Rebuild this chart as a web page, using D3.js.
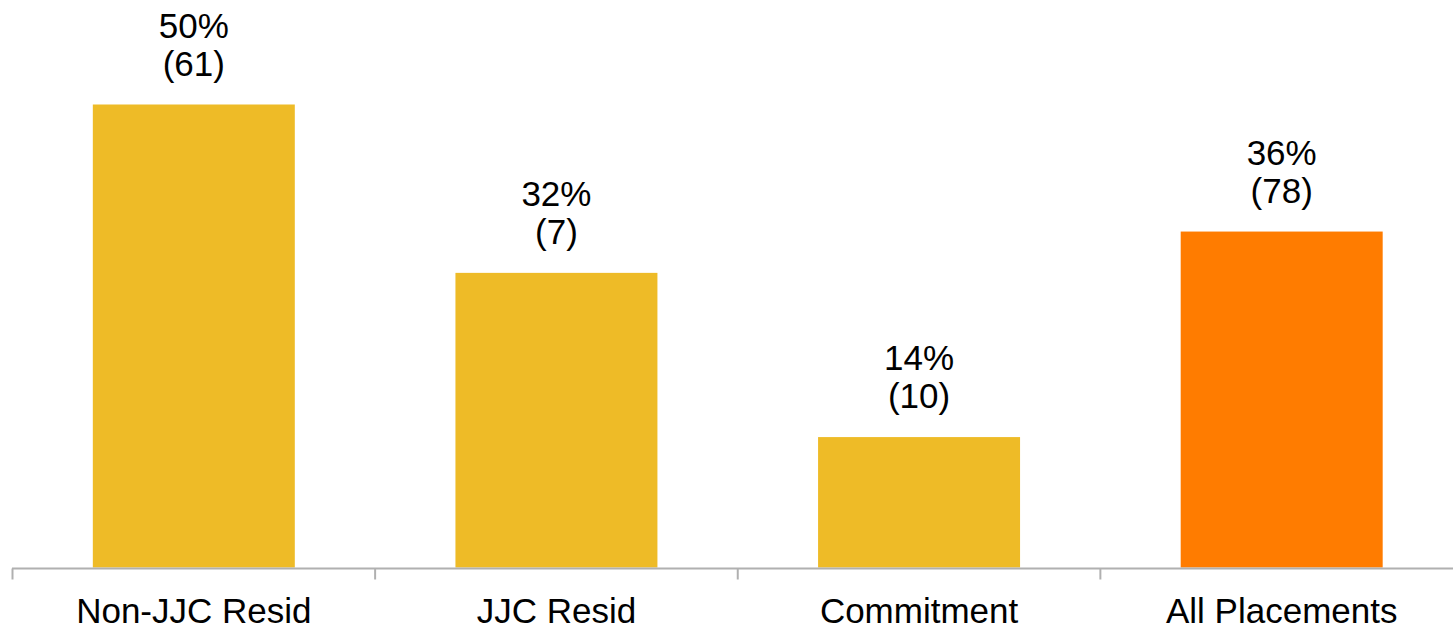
<!DOCTYPE html>
<html>
<head>
<meta charset="utf-8">
<script src="https://cdn.jsdelivr.net/npm/d3@7/dist/d3.min.js"></script>
<style>
  html, body { margin: 0; padding: 0; background: #ffffff; }
  svg { display: block; font-family: "Liberation Sans", Arial, sans-serif; }
</style>
</head>
<body>
<svg id="chart" width="1453" height="631"></svg>
<script>
// Placement groups, youths with the outcome, and group totals
const categories = ["Non-JJC Resid", "JJC Resid", "Commitment", "All Placements"];
const counts = [61, 7, 10, 78];
const totals = [122, 22, 71, 215];
const barColors = ["#EEBB27", "#EEBB27", "#EEBB27", "#FF7C00"];

const rates = counts.map((c, i) => c / totals[i]);

const W = 1453, H = 631;
const svg = d3.select("#chart");

const x = d3.scaleBand()
  .domain(categories)
  .range([12.5, 1463])
  .paddingInner(0.443)
  .paddingOuter(0.2215);

const y = d3.scaleLinear()
  .domain([0, 0.6])
  .range([567.5, 11.9]);

// bars
svg.append("g")
  .selectAll("rect")
  .data(categories)
  .join("rect")
  .attr("x", d => x(d))
  .attr("width", x.bandwidth())
  .attr("y", (d, i) => y(rates[i]))
  .attr("height", (d, i) => y(0) - y(rates[i]))
  .attr("fill", (d, i) => barColors[i]);

// category axis: baseline with ticks between groups
const axisG = svg.append("g").attr("transform", `translate(0,${y(0) + 1})`);
axisG.append("line")
  .attr("x1", 12).attr("x2", W)
  .attr("y1", 0).attr("y2", 0)
  .attr("stroke", "#b0b0b0").attr("stroke-width", 2);
const boundaries = categories.map(d => x(d) - x.step() * x.paddingOuter());
axisG.selectAll(".tick-mark")
  .data(boundaries)
  .join("line")
  .attr("class", "tick-mark")
  .attr("x1", d => d).attr("x2", d => d)
  .attr("y1", 0).attr("y2", 11)
  .attr("stroke", "#b0b0b0").attr("stroke-width", 2);

const labelAxis = d3.axisBottom(x).tickSize(0).tickPadding(0);
const lab = svg.append("g")
  .attr("transform", `translate(0,${y(0) + 1})`)
  .call(labelAxis);
lab.select(".domain").remove();
lab.selectAll("text")
  .attr("dy", null)
  .attr("y", 54.5)
  .attr("font-size", 35)
  .attr("font-family", "Liberation Sans, Arial, sans-serif")
  .attr("fill", "#000");

// value labels: percentage over count
const valG = svg.append("g");
categories.forEach((d, i) => {
  const cx = x(d) + x.bandwidth() / 2;
  const top = y(rates[i]);
  const t = valG.append("text")
    .attr("text-anchor", "middle")
    .attr("font-size", 35)
    .attr("fill", "#000");
  t.append("tspan")
    .attr("x", cx).attr("y", top - 67)
    .text(Math.round(rates[i] * 100) + "%");
  t.append("tspan")
    .attr("x", cx).attr("y", top - 29)
    .text("(" + counts[i] + ")");
});
</script>
</body>
</html>
